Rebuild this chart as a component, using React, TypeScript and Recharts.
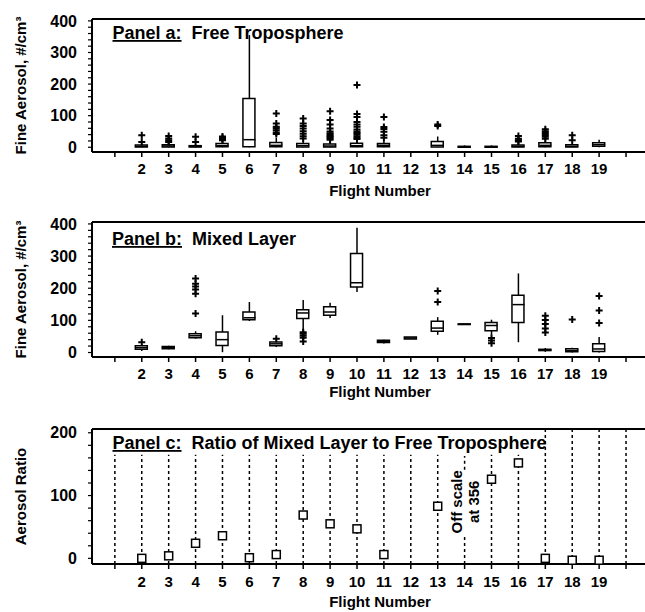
import { Bar, ComposedChart, ErrorBar, ReferenceLine, Scatter, XAxis, YAxis } from "recharts"

const FONT = '"Liberation Sans", Arial, Helvetica, sans-serif'
const INK = "#000"

// slots on the flight axis: ticks at 1..20, labels only on 2..19
const flightTicks = [1, 2, 3, 4, 5, 6, 7, 8, 9, 10, 11, 12, 13, 14, 15, 16, 17, 18, 19, 20]
const aerosolTicks = [0, 20, 40, 60, 80, 100, 120, 140, 160, 180, 200, 220, 240, 260, 280, 300, 320, 340, 360, 380, 400]
const ratioTicks = [0, 20, 40, 60, 80, 100, 120, 140, 160, 180, 200]

// Panel a: free troposphere (#/cm3)
const ftFlights = [2, 3, 4, 5, 6, 7, 8, 9, 10, 11, 13, 14, 15, 16, 17, 18, 19]
const ftLow = [0, 0, 0, 0, 0, 0, 0, 0, 0, 0, 0, 0, 0, 0, 0, 0, 0]
const ftQ1 = [1, 1, 1, 2, 2, 2, 1, 1, 2, 2, 1, 0, 0, 1, 2, 1, 3]
const ftMedian = [3, 4, 2, 5, 24, 6, 5, 4, 5, 6, 6, 1, 1, 3, 6, 3, 8]
const ftQ3 = [7, 8, 5, 12, 154, 15, 12, 10, 13, 12, 18, 3, 3, 7, 14, 8, 14]
const ftHigh = [10, 12, 8, 18, 355, 30, 22, 20, 22, 20, 34, 6, 6, 12, 22, 14, 24]
const ftOutliers = [
    [17, 38],
    [17, 22, 28, 36],
    [17, 33],
    [22, 26, 30, 34],
    [],
    [42, 47, 54, 60, 65, 75, 107],
    [28, 35, 43, 51, 59, 67, 75, 91],
    [24, 28, 32, 36, 40, 44, 50, 59, 72, 86, 114],
    [26, 30, 35, 40, 45, 50, 56, 65, 72, 80, 96, 105, 197],
    [30, 38, 49, 58, 64, 96],
    [67, 72],
    [],
    [],
    [18, 22, 27, 36],
    [27, 33, 39, 45, 51, 57],
    [22, 38],
    [],
]

// Panel b: mixed layer (#/cm3)
const mlFlights = [2, 3, 4, 5, 6, 7, 8, 9, 10, 11, 12, 13, 14, 15, 16, 17, 18, 19]
const mlLow = [5, 10, 43, 1, 98, 17, 70, 107, 188, 28, 42, 55, 87, 55, 32, 2, 0, 0]
const mlQ1 = [10, 12, 46, 22, 102, 21, 106, 116, 204, 31, 42, 66, 87, 68, 93, 6, 2, 3]
const mlMedian = [15, 16, 52, 40, 108, 27, 123, 126, 217, 34, 45, 76, 88, 84, 149, 8, 6, 11]
const mlQ3 = [21, 19, 58, 64, 126, 33, 133, 142, 308, 38, 48, 97, 89, 93, 178, 10, 12, 27]
const mlHigh = [25, 21, 66, 116, 157, 37, 163, 155, 388, 40, 48, 110, 89, 102, 246, 14, 15, 48]
const mlOutliers = [
    [32],
    [],
    [121, 183, 196, 205, 214, 230],
    [],
    [],
    [43],
    [34, 46, 52, 58, 63],
    [],
    [],
    [],
    [],
    [157, 191],
    [],
    [29, 37, 45],
    [],
    [62, 75, 89, 101, 114],
    [103],
    [92, 131, 176],
]

// Panel c: ratio of mixed layer to free troposphere
const ratioFlights = [2, 3, 4, 5, 6, 7, 8, 9, 10, 11, 13, 15, 16, 17, 18, 19]
const ratioValues = [0, 4, 24, 36, 1, 6, 69, 55, 47, 6, 83, 126, 152, 0, -3, -3]
const offScaleFlight = 14
const offScaleValue = 356

const hidden = () => <g />

const XTick = ({ x, y, payload }: any) =>
    payload.value >= 2 && payload.value <= 19 ? (
        <text x={x} y={y} dy="0.71em" textAnchor="middle" fontFamily={FONT} fontWeight="bold" fontSize={15} fill={INK}>
            {payload.value}
        </text>
    ) : (
        <g />
    )

const YTick = ({ x, y, payload }: any) =>
    payload.value % 100 === 0 ? (
        <text x={x} y={y} dy="0.355em" textAnchor="end" fontFamily={FONT} fontWeight="bold" fontSize={16} fill={INK}>
            {payload.value}
        </text>
    ) : (
        <g />
    )

const yTitle = (text: string) => (props: any) => {
    const vb = props.viewBox ?? { x: 0, y: 19, width: 92, height: 135 }
    const cx = vb.x + 20
    const cy = vb.y + vb.height / 2
    return (
        <text
            x={cx}
            y={cy}
            transform={`rotate(-90 ${cx} ${cy})`}
            textAnchor="middle"
            dominantBaseline="central"
            fontFamily={FONT}
            fontWeight="bold"
            fontSize={15}
            fill={INK}
        >
            {text}
        </text>
    )
}

const BoxShape = ({ x, y, width, height }: any) => (
    <path d={`M${x},${y}h${width}v${height}h${-width}Z`} fill="#fff" stroke={INK} strokeWidth={1.5} />
)

const MedianShape = ({ cx, cy }: any) => <path d={`M${cx - 6},${cy}h12`} stroke={INK} strokeWidth={1.5} />

const PlusShape = ({ cx, cy }: any) => <path d={`M${cx - 3.5},${cy}h7M${cx},${cy - 3.5}v7`} stroke={INK} strokeWidth={2} />

const SquareShape = ({ cx, cy }: any) => (
    <rect x={cx - 4} y={cy - 4} width={8} height={8} fill="#fff" stroke={INK} strokeWidth={1.5} />
)

const OffScaleNote = ({ cx, cy, payload }: any) => (
    <g fontFamily={FONT} fontWeight="bold" fontSize={15} fill={INK}>
        <text x={cx - 8} y={cy} transform={`rotate(-90 ${cx - 8} ${cy})`} textAnchor="middle" dominantBaseline="central">
            Off scale
        </text>
        <text x={cx + 9} y={cy} transform={`rotate(-90 ${cx + 9} ${cy})`} textAnchor="middle" dominantBaseline="central">
            {`at ${payload.actual}`}
        </text>
    </g>
)

const xAxisProps = (labelOffset: number) => ({
    dataKey: "flight",
    type: "number" as const,
    domain: [0.15, 21.56],
    ticks: flightTicks,
    interval: 0,
    allowDataOverflow: true,
    height: 50,
    tickSize: 5,
    tickMargin: 6,
    tick: XTick,
    tickLine: { stroke: INK, strokeWidth: 1.5 },
    axisLine: { stroke: INK, strokeWidth: 2 },
    label: {
        value: "Flight Number",
        position: "insideBottom" as const,
        offset: labelOffset,
        fontFamily: FONT,
        fontWeight: "bold",
        fontSize: 15,
        fill: INK,
    },
})

const yAxisProps = (domain: number[], ticks: number[], title: string) => ({
    type: "number" as const,
    domain,
    ticks,
    interval: 0,
    allowDataOverflow: true,
    width: 92,
    tickSize: 4,
    tickMargin: 11,
    tick: YTick,
    tickLine: { stroke: INK, strokeWidth: 1.2 },
    axisLine: { stroke: INK, strokeWidth: 2 },
    label: yTitle(title),
})

interface BoxPanelProps {
    flights: number[]
    low: number[]
    q1: number[]
    median: number[]
    q3: number[]
    high: number[]
    outliers: number[][]
    yDomain: number[]
    plotHeight: number
    labelOffset: number
}

function BoxPanel({ flights, low, q1, median, q3, high, outliers, yDomain, plotHeight, labelOffset }: BoxPanelProps) {
    const rows = flights.map((flight, i) => ({
        flight,
        q1: q1[i],
        q3: q3[i],
        median: median[i],
        box: [q1[i], q3[i]],
        lowerWhisker: [q1[i] - low[i], 0],
        upperWhisker: [0, high[i] - q3[i]],
    }))
    const outlierRows = flights.flatMap((flight, i) => outliers[i].map((value) => ({ flight, value })))

    return (
        <ComposedChart width={700} height={205} data={rows} margin={{ top: 19, right: 32, bottom: 205 - 19 - plotHeight - 50, left: 0 }}>
            <XAxis {...xAxisProps(labelOffset)} />
            <YAxis {...yAxisProps(yDomain, aerosolTicks, "Fine Aerosol, #/cm³")} />
            <ReferenceLine y={yDomain[1]} stroke={INK} strokeWidth={2} ifOverflow="visible" />
            <Scatter dataKey="q1" shape={hidden} isAnimationActive={false}>
                <ErrorBar dataKey="lowerWhisker" direction="y" width={0} stroke={INK} strokeWidth={1.5} isAnimationActive={false} />
            </Scatter>
            <Scatter dataKey="q3" shape={hidden} isAnimationActive={false}>
                <ErrorBar dataKey="upperWhisker" direction="y" width={0} stroke={INK} strokeWidth={1.5} isAnimationActive={false} />
            </Scatter>
            <Bar dataKey="box" barSize={12} shape={BoxShape} isAnimationActive={false} />
            <Scatter dataKey="median" shape={MedianShape} isAnimationActive={false} />
            <Scatter data={outlierRows} dataKey="value" shape={PlusShape} isAnimationActive={false} />
        </ComposedChart>
    )
}

function RatioPanel() {
    const rows = ratioFlights.map((flight, i) => ({ flight, ratio: ratioValues[i] }))
    const note = [{ flight: offScaleFlight, anchor: 90, actual: offScaleValue }]
    const yDomain = [-9, 206]
    // dotted guides stop under the title; the one at the off-scale flight is broken by its note
    const guides = flightTicks.flatMap((f) =>
        f === offScaleFlight
            ? [
                  { f, from: -9, to: 34 },
                  { f, from: 141, to: 163 },
              ]
            : [{ f, from: -9, to: f >= 17 ? 206 : 165 }],
    )

    return (
        <ComposedChart width={700} height={205} data={rows} margin={{ top: 19, right: 32, bottom: 1, left: 0 }}>
            <XAxis {...xAxisProps(7)} tickMargin={7} />
            <YAxis {...yAxisProps(yDomain, ratioTicks, "Aerosol Ratio")} />
            <ReferenceLine y={yDomain[1]} stroke={INK} strokeWidth={2} ifOverflow="visible" />
            {guides.map(({ f, from, to }, i) => (
                <ReferenceLine
                    key={i}
                    segment={[
                        { x: f, y: from },
                        { x: f, y: to },
                    ]}
                    stroke={INK}
                    strokeWidth={1.5}
                    strokeDasharray="3 3"
                    ifOverflow="visible"
                />
            ))}
            <Scatter dataKey="ratio" shape={SquareShape} isAnimationActive={false} />
            <Scatter data={note} dataKey="anchor" shape={OffScaleNote} isAnimationActive={false} />
        </ComposedChart>
    )
}

const Title = ({ x, y, tag, text }: { x: number; y: number; tag: string; text: string }) => (
    <text x={x} y={y} fontFamily={FONT} fontWeight="bold" fontSize={18} fill={INK} style={{ whiteSpace: "pre" }}>
        <tspan textDecoration="underline">{tag}</tspan>
        {"  " + text}
    </text>
)

export default function App() {
    return (
        <div style={{ position: "absolute", left: 0, top: 0, width: 645, height: 612, overflow: "hidden", background: "#fff" }}>
            <div style={{ position: "absolute", left: 0, top: 0 }}>
                <BoxPanel
                    flights={ftFlights}
                    low={ftLow}
                    q1={ftQ1}
                    median={ftMedian}
                    q3={ftQ3}
                    high={ftHigh}
                    outliers={ftOutliers}
                    yDomain={[-15, 406]}
                    plotHeight={133}
                    labelOffset={6}
                />
            </div>
            <div style={{ position: "absolute", left: 0, top: 203 }}>
                <BoxPanel
                    flights={mlFlights}
                    low={mlLow}
                    q1={mlQ1}
                    median={mlMedian}
                    q3={mlQ3}
                    high={mlHigh}
                    outliers={mlOutliers}
                    yDomain={[-14, 406]}
                    plotHeight={135}
                    labelOffset={10}
                />
            </div>
            <div style={{ position: "absolute", left: 0, top: 410 }}>
                <RatioPanel />
            </div>
            <svg width={645} height={612} style={{ position: "absolute", left: 0, top: 0, pointerEvents: "none" }}>
                <Title x={112.5} y={39} tag="Panel a:" text="Free Troposphere" />
                <Title x={112} y={245} tag="Panel b:" text="Mixed Layer" />
                <Title x={112.5} y={449} tag="Panel c:" text="Ratio of Mixed Layer to Free Troposphere" />
            </svg>
        </div>
    )
}
